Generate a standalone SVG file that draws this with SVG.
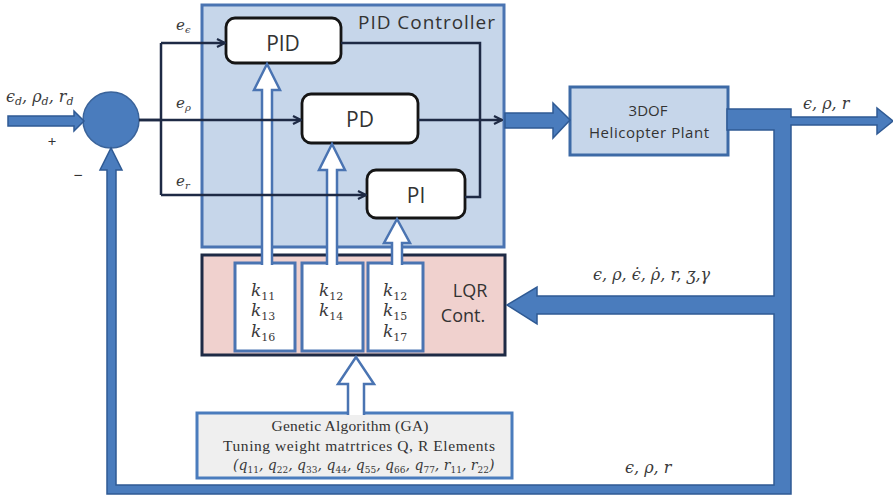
<svg xmlns="http://www.w3.org/2000/svg" width="893" height="498" viewBox="0 0 893 498">
  <style>
    .ln { stroke: #1e2a45; stroke-width: 2.5; fill: none; }
    .blk { fill: #ffffff; stroke: #151515; stroke-width: 2.8; }
    .hollow { fill: #ffffff; stroke: #4a74b2; stroke-width: 2.5; }
    .bar { fill: #4a7cbd; stroke: #2f5a94; stroke-width: 1.5; stroke-linejoin: miter; }
    .sans { font-family: "Open Sans", "Liberation Sans", sans-serif; fill: #333333; }
    .math { font-family: "DejaVu Serif", "Liberation Serif", serif; font-style: italic; fill: #3a3a3a; }
    .serif { font-family: "Liberation Serif", "DejaVu Serif", serif; fill: #333333; }
    .kg { font-family: "DejaVu Serif", "Liberation Serif", serif; font-style: italic; font-size: 17px; fill: #3a3a3a; }
    .sub { font-size: 11px; font-style: normal; }
  </style>
  <defs>
    <marker id="ah" viewBox="0 0 10 10" refX="9" refY="5" markerWidth="10" markerHeight="10" markerUnits="userSpaceOnUse" orient="auto">
      <path d="M1,1 L9,5 L1,9" fill="none" stroke="#1e2a45" stroke-width="2.2"/>
    </marker>
  </defs>

  <rect width="893" height="498" fill="#ffffff"/>

  <!-- PID controller container -->
  <g id="pid-controller">
    <rect x="202" y="5" width="302" height="242" fill="#c6d6ea" stroke="#4a74b2" stroke-width="3"/>
    <text class="sans" x="495" y="29" text-anchor="end" font-size="19" fill="#3b4f6e" textLength="137">PID Controller</text>
  </g>

  <!-- LQR container with gain boxes -->
  <g id="lqr">
    <rect x="202" y="255" width="303" height="100" fill="#f0d1ce" stroke="#1e2a45" stroke-width="3"/>
    <text class="sans" x="470" y="297" text-anchor="middle" font-size="18">LQR</text>
    <text class="sans" x="463" y="322" text-anchor="middle" font-size="18">Cont.</text>
  </g>
  <g id="gains-1">
    <rect x="235" y="263" width="60" height="88" fill="#ffffff" stroke="#4a74b2" stroke-width="3"/>
    <text class="kg" x="251" y="296">k<tspan class="sub" dy="4">11</tspan></text>
    <text class="kg" x="251" y="316">k<tspan class="sub" dy="4">13</tspan></text>
    <text class="kg" x="251" y="337">k<tspan class="sub" dy="4">16</tspan></text>
  </g>
  <g id="gains-2">
    <rect x="302" y="263" width="61" height="88" fill="#ffffff" stroke="#4a74b2" stroke-width="3"/>
    <text class="kg" x="319" y="296">k<tspan class="sub" dy="4">12</tspan></text>
    <text class="kg" x="319" y="316">k<tspan class="sub" dy="4">14</tspan></text>
  </g>
  <g id="gains-3">
    <rect x="368" y="263" width="55" height="88" fill="#ffffff" stroke="#4a74b2" stroke-width="3"/>
    <text class="kg" x="383" y="296">k<tspan class="sub" dy="4">12</tspan></text>
    <text class="kg" x="383" y="316">k<tspan class="sub" dy="4">15</tspan></text>
    <text class="kg" x="383" y="337">k<tspan class="sub" dy="4">17</tspan></text>
  </g>

  <!-- GA tuning block -->
  <g id="ga">
    <rect x="197" y="413" width="315" height="65" fill="#efefef" stroke="#4a7cbd" stroke-width="3"/>
    <text class="serif" x="350" y="431" text-anchor="middle" font-size="15.5" textLength="157">Genetic Algorithm  (GA)</text>
    <text class="serif" x="359" y="451" text-anchor="middle" font-size="15.5" textLength="272">Tuning weight matrtrices Q, R Elements</text>
    <text class="math" x="233" y="470" font-size="14">(q<tspan font-size="9" font-style="normal" dy="3">11</tspan><tspan dy="-3">, q</tspan><tspan font-size="9" font-style="normal" dy="3">22</tspan><tspan dy="-3">, q</tspan><tspan font-size="9" font-style="normal" dy="3">33</tspan><tspan dy="-3">, q</tspan><tspan font-size="9" font-style="normal" dy="3">44</tspan><tspan dy="-3">, q</tspan><tspan font-size="9" font-style="normal" dy="3">55</tspan><tspan dy="-3">, q</tspan><tspan font-size="9" font-style="normal" dy="3">66</tspan><tspan dy="-3">, q</tspan><tspan font-size="9" font-style="normal" dy="3">77</tspan><tspan dy="-3">, r</tspan><tspan font-size="9" font-style="normal" dy="3">11</tspan><tspan dy="-3">, r</tspan><tspan font-size="9" font-style="normal" dy="3">22</tspan><tspan dy="-3">)</tspan></text>
  </g>

  <!-- PID / PD / PI blocks -->
  <g id="pid">
    <rect class="blk" x="226" y="18" width="115" height="45" rx="9"/>
    <text class="sans" x="283" y="51" text-anchor="middle" font-size="21">PID</text>
  </g>
  <g id="pd">
    <rect class="blk" x="302" y="94" width="116" height="49" rx="9"/>
    <text class="sans" x="360" y="127" text-anchor="middle" font-size="21">PD</text>
  </g>
  <g id="pi">
    <rect class="blk" x="367" y="170" width="98" height="48" rx="9"/>
    <text class="sans" x="416" y="203" text-anchor="middle" font-size="21">PI</text>
  </g>

  <!-- Plant -->
  <g id="plant">
    <rect x="570" y="87" width="158" height="68" fill="#c6d6ea" stroke="#3d6aa6" stroke-width="3"/>
    <text class="sans" x="648" y="116" text-anchor="middle" font-size="15" fill="#404040">3DOF</text>
    <text class="sans" x="649" y="138" text-anchor="middle" font-size="15" fill="#404040" textLength="120">Helicopter Plant</text>
  </g>

  <!-- Summing junction -->
  <g id="sum">
    <circle cx="111" cy="120" r="28" fill="#4a7cbd" stroke="#3a639a" stroke-width="1.5"/>
  </g>

  <g id="connectors">
    <!-- gain transfer arrows (hollow) -->
    <path class="hollow" d="M262,265 L262,90 L254,90 L267,64 L280,90 L272,90 L272,265"/>
    <path class="hollow" d="M327,265 L327,170 L319,170 L332,144 L345,170 L337,170 L337,265"/>
    <path class="hollow" d="M392,265 L392,243 L384,243 L397,219 L410,243 L402,243 L402,265"/>
    <path class="hollow" d="M348,415 L348,384 L338,384 L356,357 L374,384 L364,384 L364,415"/>

    <!-- error signals -->
    <path class="ln" d="M139,120 H161 M161,43 V195"/>
    <path class="ln" d="M161,43 H225" marker-end="url(#ah)"/>
    <path class="ln" d="M139,120 H301" marker-end="url(#ah)"/>
    <path class="ln" d="M161,195 H366" marker-end="url(#ah)"/>

    <!-- controller outputs -->
    <path class="ln" d="M341,43 H480 V197 H465"/>
    <path class="ln" d="M418,120 H502" marker-end="url(#ah)"/>

    <!-- reference input -->
    <path class="bar" d="M8,116 H74 V111 L84,121 L74,131 V126 H8 Z"/>

    <!-- control to plant -->
    <path class="bar" d="M505,113 H553 V103 L570,120 L553,138 V128 H505 Z"/>

    <!-- plant output, state feedback to LQR and output feedback to junction -->
    <path class="bar" d="M727,109 H791 V117 H877 V108 L893,121 L877,134 V125 H791 V494 H107 V170 H100 L111,148 L122,170 H116 V485 H774 V314 H537 V324 L507,305 L537,287 V296 H774 V130 H727 Z"/>
  </g>

  <!-- signal labels -->
  <g id="labels">
    <text class="math" x="6" y="102" font-size="16">ϵ<tspan font-size="11" dy="3">d</tspan><tspan dy="-3">, ρ</tspan><tspan font-size="11" dy="3">d</tspan><tspan dy="-3">, r</tspan><tspan font-size="11" dy="3">d</tspan></text>
    <text class="sans" x="52" y="147" text-anchor="middle" font-size="15">+</text>
    <text class="sans" x="78" y="181" text-anchor="middle" font-size="16">−</text>
    <text class="math" x="176" y="30" font-size="15">e<tspan font-size="10" dy="3">ϵ</tspan></text>
    <text class="math" x="176" y="108" font-size="15">e<tspan font-size="10" dy="3">ρ</tspan></text>
    <text class="math" x="176" y="186" font-size="15">e<tspan font-size="10" dy="3">r</tspan></text>
    <text class="math" x="803" y="109" font-size="16">ϵ, ρ, r</text>
    <text class="math" x="593" y="280" font-size="16">ϵ, ρ, ϵ̇, ρ̇, r,  ʒ,γ</text>
    <text class="math" x="625" y="473" font-size="16">ϵ, ρ, r</text>
  </g>
</svg>
